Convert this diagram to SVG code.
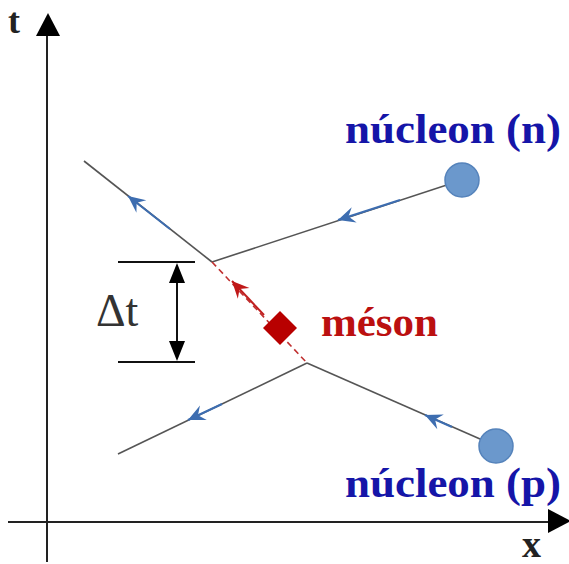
<svg xmlns="http://www.w3.org/2000/svg" width="569" height="564" viewBox="0 0 569 564">
<style>
.ax{stroke:#222;stroke-width:2;fill:none}
.wl{stroke:#555;stroke-width:1.6;fill:none}
.bl{stroke:#3d6db0;stroke-width:2;fill:none}
.ms{stroke:#c03030;stroke-width:1.6;fill:none;stroke-dasharray:6,4}
.mr{stroke:#c02020;stroke-width:2;fill:none}
.blk{stroke:#111;stroke-width:2;fill:none}
.lab{font-family:"Liberation Serif","Times New Roman",serif;font-weight:bold}
.ball{fill:#6b98cc;stroke:#5583bb;stroke-width:1.5}
</style>
<defs>
<marker id="ab" markerUnits="userSpaceOnUse" markerWidth="24" markerHeight="24" refX="0" refY="0" viewBox="-20 -12 24 24" orient="auto"><polygon points="0,0 -17,-8 -11,0 -17,8" fill="#3d6db0"/></marker>
<marker id="ar" markerUnits="userSpaceOnUse" markerWidth="24" markerHeight="24" refX="0" refY="0" viewBox="-20 -12 24 24" orient="auto"><polygon points="0,0 -17,-8 -11,0 -17,8" fill="#c01818"/></marker>
</defs>
<g id="axes">
<line class="ax" x1="47" y1="30" x2="47" y2="562"/>
<polygon points="48,13 36,36 60,36" fill="#000"/>
<line class="ax" x1="8" y1="522" x2="552" y2="522"/>
<polygon points="571,521 548,509 548,533" fill="#000"/>
<text class="lab" x="8" y="33" font-size="36" fill="#222">t</text>
<text class="lab" x="522" y="557" font-size="38" fill="#222">x</text>
</g>
<g id="connectors">
<line class="wl" x1="84" y1="161" x2="212" y2="262"/>
<path class="bl" d="M170,229 L128,196" marker-end="url(#ab)"/>
<line class="wl" x1="462" y1="180" x2="212" y2="262"/>
<path class="bl" d="M400,200 L338,220" marker-end="url(#ab)"/>
<line class="ms" x1="212" y1="262" x2="307" y2="363"/>
<path class="mr" d="M264,315 L232,281" marker-end="url(#ar)"/>
<line class="wl" x1="307" y1="363" x2="118" y2="454"/>
<path class="bl" d="M222,404 L188,420" marker-end="url(#ab)"/>
<line class="wl" x1="496" y1="446" x2="307" y2="363"/>
<path class="bl" d="M452,427 L425,415" marker-end="url(#ab)"/>
</g>
<g id="delta-t">
<line class="blk" x1="118" y1="262" x2="195" y2="262"/>
<line class="blk" x1="118" y1="362" x2="195" y2="362"/>
<line class="blk" x1="177" y1="275" x2="177" y2="350"/>
<polygon points="177,263 169,283 185,283" fill="#000"/>
<polygon points="177,361 169,341 185,341" fill="#000"/>
<text x="96" y="326" font-family="Liberation Serif,'Times New Roman',serif" font-size="46" fill="#333">Δt</text>
</g>
<g id="meson">
<polygon points="280,311 297,328 280,345 263,328" fill="#b80000"/>
<text class="lab" x="321" y="336" font-size="42" fill="#bb1010" textLength="117" lengthAdjust="spacingAndGlyphs">méson</text>
</g>
<g id="nucleon-n">
<circle class="ball" cx="462" cy="180" r="17"/>
<text class="lab" x="345" y="143" font-size="42" fill="#1515a8" textLength="216" lengthAdjust="spacingAndGlyphs">núcleon (n)</text>
</g>
<g id="nucleon-p">
<circle class="ball" cx="496" cy="446" r="17"/>
<text class="lab" x="345" y="497" font-size="42" fill="#1515a8" textLength="216" lengthAdjust="spacingAndGlyphs">núcleon (p)</text>
</g>
</svg>
